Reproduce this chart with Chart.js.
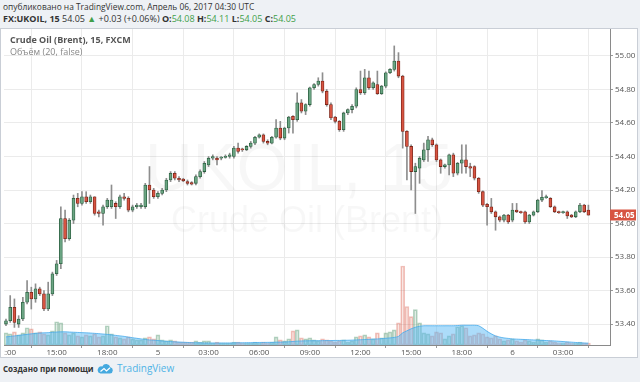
<!DOCTYPE html>
<html><head><meta charset="utf-8">
<script src="https://cdn.jsdelivr.net/npm/chart.js@4.4.0/dist/chart.umd.min.js"></script>
<style>
html,body{margin:0;padding:0;background:#eef1f5;width:640px;height:382px;overflow:hidden;font-family:"Open Sans",sans-serif;}
.t{position:absolute;white-space:nowrap;font-size:9px;line-height:12px;}
#l1{left:3px;top:1px;color:#333;font-size:8.4px;}
#l2{left:3px;top:13px;color:#333;}
.b{font-weight:bold;}
.g{color:#3f9f4a;}
#box{position:absolute;left:0;top:28px;width:636px;height:328px;background:#fff;border:1px solid #c9ced6;}
#c{position:absolute;left:3px;top:0;}
#leg1{left:10px;top:34px;font-weight:bold;color:#555;}
#leg2{left:10px;top:46px;color:#888;}
#foot{left:3px;top:363px;color:#333;font-weight:bold;font-size:8px;}
#logo{position:absolute;left:97px;top:363px;}
#tv{left:117px;top:362px;color:#4fb3e6;font-size:10px;}
</style>
</head><body>
<div class="t" id="l1">опубликовано на TradingView.com, Апрель 06, 2017 04:30 UTC</div>
<div class="t" id="l2"><span class="b">FX:UKOIL, 15</span> 54.05 <span class="g">▲</span> +0.03 (+0.06%) <span class="b">O:</span><span class="g">54.08</span> <span class="b">H:</span><span class="g">54.11</span> <span class="b">L:</span><span class="g">54.05</span> <span class="b">C:</span><span class="g">54.05</span></div>
<div id="box"><canvas id="c" width="632" height="327" style="width:632px;height:327px"></canvas></div>
<div class="t" id="leg1">Crude Oil (Brent), 15, FXCM</div>
<div class="t" id="leg2">Объём (20, false)</div>
<div class="t" id="foot">Создано при помощи</div>
<svg id="logo" width="17" height="11" viewBox="0 0 17 11"><path d="M3.5 10.5 H13 A3.2 3.2 0 0 0 13.3 4.2 A4.3 4.3 0 0 0 5.3 3.4 A3.6 3.6 0 0 0 3.5 10.5 Z" fill="#45a9df"/><polyline points="3.5,8.5 7,5.5 9.5,8 13,4.8" fill="none" stroke="#fff" stroke-width="1.2"/></svg>
<div class="t" id="tv">TradingView</div>
<script>
const opens  = [53.40,53.42,53.50,53.40,53.43,53.53,53.59,53.55,53.61,53.58,53.49,53.58,53.70,53.76,54.03,53.91,54.02,54.15,54.12,54.16,54.13,54.16,54.07,54.06,54.10,54.10,54.12,54.10,54.16,54.15,54.08,54.10,54.10,54.10,54.23,54.20,54.16,54.18,54.20,54.26,54.30,54.27,54.265,54.25,54.245,54.24,54.28,54.31,54.35,54.39,54.39,54.39,54.395,54.40,54.40,54.45,54.445,54.44,54.46,54.48,54.515,54.53,54.49,54.48,54.515,54.57,54.51,54.57,54.64,54.62,54.72,54.67,54.71,54.81,54.83,54.85,54.79,54.71,54.635,54.61,54.56,54.66,54.68,54.70,54.80,54.78,54.87,54.81,54.83,54.775,54.82,54.90,54.92,54.97,54.88,54.55,54.46,54.31,54.33,54.38,54.44,54.50,54.47,54.38,54.34,54.35,54.41,54.30,54.36,54.38,54.34,54.34,54.27,54.19,54.115,54.10,54.07,54.04,54.02,54.05,54.02,54.08,54.07,54.07,54.01,54.05,54.07,54.14,54.155,54.15,54.10,54.07,54.065,54.07,54.05,54.04,54.07,54.11,54.08];
const highs  = [53.43,53.57,53.55,53.45,53.56,53.66,53.62,53.64,53.62,53.60,53.65,53.71,53.78,54.10,54.08,54.03,54.17,54.18,54.19,54.19,54.17,54.16,54.08,54.11,54.15,54.23,54.13,54.17,54.18,54.16,54.11,54.12,54.12,54.24,54.34,54.21,54.19,54.21,54.27,54.31,54.31,54.28,54.27,54.26,54.25,54.29,54.32,54.37,54.40,54.41,54.40,54.40,54.41,54.42,54.46,54.48,54.45,54.465,54.49,54.52,54.535,54.535,54.50,54.52,54.62,54.61,54.575,54.64,54.645,54.78,54.74,54.715,54.815,54.835,54.87,54.90,54.80,54.72,54.64,54.615,54.665,54.685,54.71,54.81,54.91,54.92,54.91,54.845,54.91,54.825,54.905,54.925,55.06,55.02,54.885,54.555,54.47,54.36,54.40,54.48,54.52,54.51,54.475,54.385,54.355,54.415,54.42,54.365,54.47,54.47,54.36,54.345,54.275,54.195,54.12,54.15,54.075,54.045,54.055,54.055,54.12,54.12,54.075,54.075,54.055,54.075,54.145,54.196,54.17,54.155,54.105,54.075,54.075,54.075,54.055,54.075,54.12,54.115,54.11];
const lows   = [53.39,53.41,53.38,53.38,53.42,53.52,53.49,53.53,53.57,53.48,53.48,53.57,53.69,53.73,53.89,53.90,54.00,54.10,54.11,54.12,54.12,54.05,54.04,53.99,54.09,54.09,54.03,54.09,54.14,54.07,54.07,54.09,54.09,54.09,54.12,54.15,54.15,54.17,54.19,54.25,54.26,54.25,54.25,54.23,54.23,54.23,54.27,54.30,54.34,54.38,54.35,54.38,54.39,54.39,54.39,54.42,54.43,54.435,54.45,54.47,54.51,54.48,54.47,54.475,54.51,54.50,54.50,54.54,54.54,54.61,54.66,54.65,54.70,54.80,54.82,54.78,54.70,54.62,54.60,54.55,54.55,54.65,54.66,54.69,54.77,54.77,54.80,54.80,54.77,54.77,54.81,54.895,54.91,54.87,54.45,54.26,54.20,54.06,54.24,54.37,54.37,54.46,54.37,54.30,54.33,54.29,54.28,54.29,54.30,54.30,54.28,54.26,54.18,54.10,53.99,54.06,53.96,54.01,54.01,54.00,54.01,54.065,54.06,54.00,54.00,54.045,54.065,54.13,54.15,54.095,54.065,54.06,54.06,54.03,54.035,54.035,54.065,54.065,54.05];
const closes = [53.42,53.50,53.41,53.43,53.53,53.59,53.55,53.61,53.58,53.49,53.58,53.70,53.76,54.03,53.91,54.02,54.15,54.12,54.16,54.13,54.16,54.06,54.06,54.10,54.14,54.14,54.10,54.16,54.15,54.08,54.10,54.11,54.11,54.23,54.20,54.16,54.18,54.20,54.26,54.30,54.27,54.26,54.255,54.24,54.235,54.28,54.31,54.36,54.39,54.40,54.38,54.395,54.40,54.41,54.45,54.43,54.44,54.46,54.48,54.515,54.53,54.49,54.48,54.515,54.57,54.51,54.57,54.635,54.62,54.72,54.67,54.71,54.81,54.83,54.85,54.79,54.71,54.63,54.61,54.56,54.66,54.68,54.70,54.80,54.78,54.87,54.81,54.84,54.775,54.82,54.90,54.92,54.97,54.88,54.55,54.46,54.31,54.34,54.39,54.44,54.50,54.47,54.38,54.34,54.35,54.41,54.30,54.36,54.38,54.34,54.33,54.27,54.19,54.11,54.10,54.07,54.04,54.02,54.05,54.01,54.08,54.07,54.065,54.01,54.05,54.07,54.14,54.156,54.16,54.10,54.07,54.065,54.07,54.045,54.04,54.07,54.11,54.07,54.05];
const volumes = [120,110,130,100,120,170,160,120,130,110,100,140,230,220,120,100,120,90,80,100,90,110,80,90,190,110,80,70,60,80,60,50,50,70,80,60,100,50,40,50,40,30,30,30,30,40,30,40,40,20,30,20,20,20,30,30,20,20,20,30,20,30,20,30,80,50,40,60,140,150,70,60,70,50,40,60,50,40,30,40,50,30,40,80,90,100,80,60,120,70,120,130,150,220,780,380,280,350,220,120,110,90,130,120,60,90,110,180,190,170,90,100,120,110,80,70,90,60,40,50,60,40,30,50,40,30,60,50,30,40,30,20,20,30,20,20,30,20,20];
const volumeMA = [80,85,90,95,100,105,110,115,118,120,122,125,128,130,130,128,126,124,122,120,118,115,112,108,105,100,95,90,85,78,72,66,60,55,50,47,44,40,37,34,31,29,27,25,23,22,21,20,20,20,20,20,20,20,21,22,22,23,23,24,25,25,26,26,28,29,30,32,35,38,40,41,42,42,43,43,44,44,45,45,46,47,48,50,52,54,56,58,60,63,66,70,75,85,120,140,160,175,185,190,190,190,190,190,190,190,190,192,195,195,195,195,190,165,135,110,90,78,70,65,60,58,56,54,52,50,48,46,44,42,40,37,34,31,28,25,22,20,18];
const priceTicks = [53.40,53.60,53.80,54.00,54.20,54.40,54.60,54.80,55.00];
const timeTickIndex = [0,12,24,36,48,60,72,84,96,108,120,132];
const timeTickLabels = ["12:00","15:00","18:00","5","03:00","06:00","09:00","12:00","15:00","18:00","6","03:00"];
const watermarkSymbol = "UKOIL, 15";
const watermarkName = "Crude Oil (Brent)";

const upFill='#6ba583', upLine='#2b5f40', dnFill='#d75442', dnLine='#7a2418';
const isUp = closes.map((c,i)=>c>=opens[i]);
const bodyData = opens.map((o,i)=>({x:i,y:[Math.min(o,closes[i]),Math.max(o,closes[i])]}));
const wickData = highs.map((h,i)=>({x:i,y:[lows[i],h]}));
const volData = volumes.map((v,i)=>({x:i,y:v}));
const maData = volumeMA.map((v,i)=>({x:i,y:v}));
const last = closes.length-1;

const extras = {
  id:'extras',
  beforeDatasetsDraw(chart){
    const c=chart.ctx;
    c.save();
    c.fillStyle='rgba(0,0,0,0.03)';
    c.textAlign='center';
    c.textBaseline='alphabetic';
    c.font='66px "Liberation Sans", Arial, sans-serif';
    c.fillText(watermarkSymbol,295,161);
    c.font='36px "Liberation Sans", Arial, sans-serif';
    c.fillText(watermarkName,303,203);
    c.restore();
  },
  afterDraw(chart){
    const c=chart.ctx, a=chart.chartArea;
    const y=chart.scales.y.getPixelForValue(closes[last]);
    c.save();
    c.fillStyle='#d75442';
    c.fillRect(a.right,Math.round(y)-5.5,26,11);
    c.fillStyle='#fff';
    c.font='bold 8px "Open Sans", sans-serif';
    c.textBaseline='middle';
    c.textAlign='left';
    c.fillText(closes[last].toFixed(2),a.right+4,Math.round(y)+0.5);
    c.restore();
  }
};

new Chart(document.getElementById('c'),{
  type:'bar',
  data:{datasets:[
    {type:'bar',data:bodyData,yAxisID:'y',backgroundColor:isUp.map(u=>u?upFill:dnFill),borderColor:isUp.map(u=>u?upLine:dnLine),borderWidth:0.8,borderSkipped:false,barThickness:3,minBarLength:1,grouped:false,order:1},
    {type:'bar',data:wickData,yAxisID:'y',backgroundColor:'#8e8e8e',barThickness:1,grouped:false,order:2},
    {type:'line',data:maData,yAxisID:'vol',borderColor:'rgba(70,170,235,0.8)',backgroundColor:'rgba(90,185,245,0.5)',fill:'origin',pointRadius:0,borderWidth:1,tension:0.3,order:3},
    {type:'bar',data:volData,yAxisID:'vol',backgroundColor:isUp.map(u=>u?'rgba(107,165,131,0.2)':'rgba(215,84,66,0.14)'),borderColor:isUp.map(u=>u?'rgba(107,165,131,0.5)':'rgba(215,84,66,0.36)'),borderWidth:1,borderSkipped:false,barThickness:4,grouped:false,order:4}
  ]},
  options:{
    responsive:false,animation:false,devicePixelRatio:1,
    layout:{padding:0},
    plugins:{legend:{display:false},tooltip:{enabled:false}},
    scales:{
      x:{type:'linear',min:-0.47,max:143.12,offset:false,
        afterBuildTicks:s=>{s.ticks=timeTickIndex.map(v=>({value:v}));},
        ticks:{autoSkip:false,maxRotation:0,minRotation:0,font:{size:8,family:'Open Sans'},color:'#555',padding:0,callback:(v,i)=>timeTickLabels[i]},
        grid:{color:'#ebebeb',tickLength:3,tickColor:'#999'},
        border:{display:true,color:'#8a8a8a'},
        afterFit:s=>{s.height=11;s.paddingLeft=0;s.paddingRight=0;}
      },
      y:{position:'right',min:53.275,max:55.161,
        afterBuildTicks:s=>{s.ticks=priceTicks.map(v=>({value:v}));},
        ticks:{font:{size:8,family:'Open Sans'},color:'#555',padding:2,callback:v=>Number(v).toFixed(2)},
        grid:{color:'#ebebeb',tickLength:3,tickColor:'#999'},
        border:{display:true,color:'#8a8a8a'},
        afterFit:s=>{s.width=26;s.paddingTop=0;s.paddingBottom=0;}
      },
      vol:{display:false,min:0,max:3120}
    }
  },
  plugins:[extras]
});
</script>
</body></html>
